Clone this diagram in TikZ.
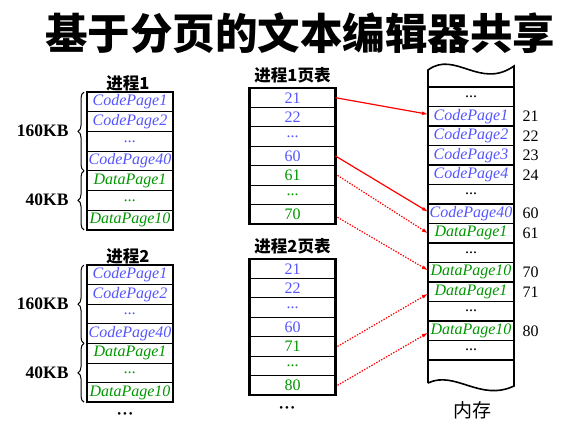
\documentclass[tikz,border=0pt]{standalone}
\usepackage{fontspec}
\setmainfont{Liberation Serif}
\newfontfamily\cjk{Noto Sans CJK SC}
\usepackage{xcolor}
\usetikzlibrary{arrows.meta}
\usetikzlibrary{decorations.pathreplacing}
\definecolor{codeblue}{RGB}{85,85,255}
\definecolor{datagreen}{RGB}{0,150,0}
\tikzset{
  cell/.style={draw, line width=1pt, outer sep=0pt, inner sep=0pt, minimum width=86pt, minimum height=19.6pt, font=\fontsize{16}{16}\selectfont\itshape},
  code/.style={cell, text=codeblue},
  data/.style={cell, text=datagreen},
  ptcode/.style={code, font=\fontsize{16}{16}\selectfont},
  ptdata/.style={data, font=\fontsize{16}{16}\selectfont},
  plain/.style={cell, font=\fontsize{16}{16}\selectfont},
  heading/.style={font=\cjk\bfseries\fontsize{16.5}{16.5}\selectfont},
  size/.style={font=\bfseries\fontsize{17.5}{17.5}\selectfont, anchor=east},
  more/.style={inner sep=0pt, font=\fontsize{11}{11}\selectfont},
  ptr/.style={red, line width=1.2pt, -{Latex[length=6pt,width=4pt]}},
  ptrdot/.style={ptr, dash pattern=on 1.4pt off 1.4pt},
  frame/.style={line width=2.2pt},
  sizebrace/.style={decorate, decoration={brace, amplitude=6pt}, line width=1pt}
}
\begin{document}
\begin{tikzpicture}[x=1pt,y=-1pt]
\useasboundingbox (0,0) rectangle (577,426);

\node (title) at (300,33) {\cjk\bfseries\fontsize{42.5}{42.5}\selectfont 基于分页的文本编辑器共享};

\node[heading] (proc1) at (128,83) {进程1};
\node[code] (p1a) at (130,101.9) {CodePage1};
\node[code] (p1b) at (130,121.6) {CodePage2};
\node[code] (p1c) at (130,141.3) {...};
\node[code] (p1d) at (130,161) {CodePage40};
\node[data] (p1e) at (130,180.7) {DataPage1};
\node[data] (p1f) at (130,200.4) {...};
\node[data] (p1g) at (130,220.1) {DataPage10};
\draw[frame] (p1a.north west) rectangle (p1g.south east);
\draw[sizebrace] ([xshift=-3pt]p1d.south west) -- ([xshift=-3pt]p1a.north west);
\draw[sizebrace] ([xshift=-3pt]p1g.south west) -- ([xshift=-3pt]p1e.north west);
\node[size] (k1a) at (72,131) {160KB};
\node[size] (k1b) at (72,200) {40KB};

\node[heading] (proc2) at (128,256) {进程2};
\node[code] (p2a) at (130,274.8) {CodePage1};
\node[code] (p2b) at (130,294.4) {CodePage2};
\node[code] (p2c) at (130,314) {...};
\node[code] (p2d) at (130,333.6) {CodePage40};
\node[data] (p2e) at (130,353.2) {DataPage1};
\node[data] (p2f) at (130,372.8) {...};
\node[data] (p2g) at (130,392.4) {DataPage10};
\draw[frame] (p2a.north west) rectangle (p2g.south east);
\draw[sizebrace] ([xshift=-3pt]p2d.south west) -- ([xshift=-3pt]p2a.north west);
\draw[sizebrace] ([xshift=-3pt]p2g.south west) -- ([xshift=-3pt]p2e.north west);
\node[size] (k2a) at (72,304) {160KB};
\node[size] (k2b) at (72,373) {40KB};
\node[more] (more1) at (125,415) {•\,•\,•};

\node[heading] (tab1) at (292.5,75) {进程1页表};
\node[ptcode] (t1a) at (292.5,97.7) {21};
\node[ptcode] (t1b) at (292.5,117.1) {22};
\node[ptcode] (t1c) at (292.5,136.6) {...};
\node[ptcode] (t1d) at (292.5,156) {60};
\node[ptdata] (t1e) at (292.5,175.4) {61};
\node[ptdata] (t1f) at (292.5,194.9) {...};
\node[ptdata] (t1g) at (292.5,214.3) {70};
\draw[frame] (t1a.north west) rectangle (t1g.south east);

\node[heading] (tab2) at (292.5,246) {进程2页表};
\node[ptcode] (t2a) at (292.5,268.7) {21};
\node[ptcode] (t2b) at (292.5,288.1) {22};
\node[ptcode] (t2c) at (292.5,307.6) {...};
\node[ptcode] (t2d) at (292.5,327) {60};
\node[ptdata] (t2e) at (292.5,346.4) {71};
\node[ptdata] (t2f) at (292.5,365.9) {...};
\node[ptdata] (t2g) at (292.5,385.3) {80};
\draw[frame] (t2a.north west) rectangle (t2g.south east);
\node[more] (more2) at (287,409) {•\,•\,•};

\node[plain] (m1) at (471,96.75) {...};
\node[code] (m2) at (471,116.25) {CodePage1};
\node[code] (m3) at (471,135.75) {CodePage2};
\node[code] (m4) at (471,155.25) {CodePage3};
\node[code] (m5) at (471,174.75) {CodePage4};
\node[plain] (m6) at (471,194.25) {...};
\node[code] (m7) at (471,213.75) {CodePage40};
\node[data] (m8) at (471,233.25) {DataPage1};
\node[plain] (m9) at (471,252.75) {...};
\node[data] (m10) at (471,272.25) {DataPage10};
\node[data] (m11) at (471,291.75) {DataPage1};
\node[plain] (m12) at (471,311.25) {...};
\node[data] (m13) at (471,330.75) {DataPage10};
\node[plain] (m14) at (471,350.25) {...};
\draw[frame] (m1.north west) -- (m1.north east);
\draw[frame] (m14.south west) -- (m14.south east);
\draw[line width=1.6pt] (428,383) -- (428,70) .. controls (455,50) and (480,90) .. (514,66) -- (514,386) .. controls (480,402) and (455,370) .. (428,383);
\node[font=\cjk\fontsize{19}{19}\selectfont] (mem) at (472,410) {内存};

\node[anchor=west, font=\fontsize{16}{16}\selectfont] (n21) at (519,116.25) {21};
\node[anchor=west, font=\fontsize{16}{16}\selectfont] (n22) at (519,135.75) {22};
\node[anchor=west, font=\fontsize{16}{16}\selectfont] (n23) at (519,155.25) {23};
\node[anchor=west, font=\fontsize{16}{16}\selectfont] (n24) at (519,174.75) {24};
\node[anchor=west, font=\fontsize{16}{16}\selectfont] (n60) at (519,213.75) {60};
\node[anchor=west, font=\fontsize{16}{16}\selectfont] (n61) at (519,233.25) {61};
\node[anchor=west, font=\fontsize{16}{16}\selectfont] (n70) at (519,272.25) {70};
\node[anchor=west, font=\fontsize{16}{16}\selectfont] (n71) at (519,291.75) {71};
\node[anchor=west, font=\fontsize{16}{16}\selectfont] (n80) at (519,330.75) {80};

\draw[ptr] (t1a.east) -- ([yshift=2pt]m2.west);
\draw[ptr] (t1d.east) -- ([yshift=2pt]m7.west);
\draw[ptrdot] ([xshift=2pt]t1e.east) -- (m8.west);
\draw[ptrdot] ([xshift=2pt,yshift=-3pt]t1g.east) -- ([yshift=2pt]m10.west);
\draw[ptrdot] ([xshift=2pt]t2e.east) -- ([yshift=-2pt]m11.west);
\draw[ptrdot] ([xshift=2pt]t2g.east) -- ([yshift=-2pt]m13.west);
\end{tikzpicture}
\end{document}
